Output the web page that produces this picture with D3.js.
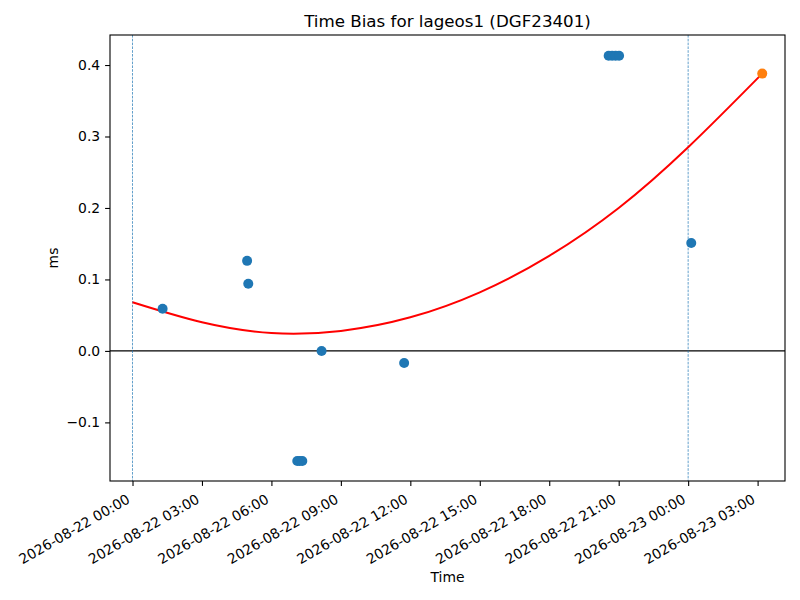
<!DOCTYPE html>
<html>
<head>
<meta charset="utf-8">
<script src="https://cdn.jsdelivr.net/npm/d3@7"></script>
<style>
  body { margin: 0; background: #fff; }
  svg { font-family: "DejaVu Sans", sans-serif; }
</style>
</head>
<body>
<script>
// observed time bias points (UTC)
var obsTimes = [
  "2026-08-22T01:18", "2026-08-22T04:57", "2026-08-22T05:00",
  "2026-08-22T07:07", "2026-08-22T07:13", "2026-08-22T07:20",
  "2026-08-22T08:10", "2026-08-22T11:44",
  "2026-08-22T20:34", "2026-08-22T20:43", "2026-08-22T20:52", "2026-08-22T21:01",
  "2026-08-23T00:08"
];
var obsValues = [0.059, 0.126, 0.094, -0.154, -0.154, -0.154, 0.000, -0.017,
  0.413, 0.413, 0.413, 0.413, 0.151];

// predicted point
var predTime = "2026-08-23T03:12";
var predValue = 0.388;

// fitted curve
var fitTimes = ["2026-08-22T00:00", "2026-08-22T03:00", "2026-08-22T06:00", "2026-08-22T09:00",
  "2026-08-22T12:00", "2026-08-22T15:00", "2026-08-22T18:00", "2026-08-22T21:00",
  "2026-08-23T00:00", "2026-08-23T03:12"];
var fitValues = [0.068, 0.040, 0.025, 0.028, 0.047, 0.082, 0.133, 0.200, 0.285, 0.388];

// day boundaries
var dayLines = ["2026-08-22T00:00", "2026-08-23T00:00"];

var xDomain = ["2026-08-21T23:01:40", "2026-08-23T04:11"];
var yDomain = [-0.182, 0.442];
var yTicks = [-0.1, 0.0, 0.1, 0.2, 0.3, 0.4];

var parse = d3.utcParse("%Y-%m-%dT%H:%M");
var parseS = d3.utcParse("%Y-%m-%dT%H:%M:%S");

var margin = {top: 35, right: 15, bottom: 119, left: 110};
var width = 800 - margin.left - margin.right;
var height = 600 - margin.top - margin.bottom;

var svg = d3.select("body").append("svg")
    .attr("width", 800)
    .attr("height", 600);

var g = svg.append("g")
    .attr("transform", "translate(" + margin.left + "," + margin.top + ")");

var xScale = d3.scaleUtc()
    .domain([parseS(xDomain[0]), parse(xDomain[1])])
    .range([0, width]);

var yScale = d3.scaleLinear()
    .domain(yDomain)
    .range([height, 0]);

// zero line
g.append("line")
    .attr("x1", 0).attr("x2", width)
    .attr("y1", yScale(0)).attr("y2", yScale(0))
    .attr("stroke", "#000")
    .attr("stroke-width", 1.1);

// dashed day lines
dayLines.forEach(function(d) {
    g.append("line")
        .attr("x1", xScale(parse(d))).attr("x2", xScale(parse(d)))
        .attr("y1", 0).attr("y2", height)
        .attr("stroke", "#1f77b4")
        .attr("stroke-width", 0.7)
        .attr("stroke-dasharray", "2.6,1.2");
});

// fitted curve
var fitData = fitTimes.map(function(t, i) { return {t: parse(t), v: fitValues[i]}; });
var line = d3.line()
    .x(function(d) { return xScale(d.t); })
    .y(function(d) { return yScale(d.v); })
    .curve(d3.curveNatural);

g.append("path")
    .datum(fitData)
    .attr("d", line)
    .attr("fill", "none")
    .attr("stroke", "red")
    .attr("stroke-width", 2);

// observations
var obsData = obsTimes.map(function(t, i) { return {t: parse(t), v: obsValues[i]}; });
g.selectAll("circle.obs")
    .data(obsData)
    .enter().append("circle")
    .attr("class", "obs")
    .attr("cx", function(d) { return xScale(d.t); })
    .attr("cy", function(d) { return yScale(d.v); })
    .attr("r", 5)
    .attr("fill", "#1f77b4");

g.append("circle")
    .attr("cx", xScale(parse(predTime)))
    .attr("cy", yScale(predValue))
    .attr("r", 5)
    .attr("fill", "#ff7f0e");

// x axis
var xTicks = d3.utcHour.every(3).range(parseS(xDomain[0]), parse(xDomain[1]));
var xAxis = d3.axisBottom(xScale)
    .tickValues(xTicks)
    .tickSize(4.9)
    .tickFormat("");

var gx = g.append("g")
    .attr("transform", "translate(0," + height + ")")
    .call(xAxis);
gx.select(".domain").remove();
gx.selectAll(".tick line").attr("stroke-width", 1.1);

var fmt = d3.utcFormat("%Y-%m-%d %H:%M");
xTicks.forEach(function(t) {
    g.append("text")
        .attr("transform", "translate(" + (xScale(t) - 1.5) + "," + (height + 21) + ") rotate(-30)")
        .attr("text-anchor", "end")
        .attr("font-size", "13.9px")
        .attr("fill", "#000")
        .text(fmt(t));
});

// y axis
var yAxis = d3.axisLeft(yScale)
    .tickValues(yTicks)
    .tickSize(4.9)
    .tickPadding(4.9)
    .tickFormat(d3.format(".1f"));

var gy = g.append("g").call(yAxis);
gy.select(".domain").remove();
gy.selectAll(".tick line").attr("stroke-width", 1.1);
gy.selectAll(".tick text")
    .attr("font-size", "13.9px")
    .attr("font-family", "DejaVu Sans, sans-serif")
    .attr("fill", "#000");

// frame
g.append("rect")
    .attr("width", width)
    .attr("height", height)
    .attr("fill", "none")
    .attr("stroke", "#000")
    .attr("stroke-width", 1.1);

// labels
svg.append("text")
    .attr("x", margin.left + width / 2)
    .attr("y", 27)
    .attr("text-anchor", "middle")
    .attr("font-size", "16.7px")
    .text("Time Bias for lageos1 (DGF23401)");

svg.append("text")
    .attr("x", margin.left + width / 2)
    .attr("y", 582)
    .attr("text-anchor", "middle")
    .attr("font-size", "13.9px")
    .text("Time");

svg.append("text")
    .attr("transform", "translate(58," + (margin.top + height / 2) + ") rotate(-90)")
    .attr("text-anchor", "middle")
    .attr("font-size", "13.9px")
    .text("ms");
</script>
</body>
</html>
